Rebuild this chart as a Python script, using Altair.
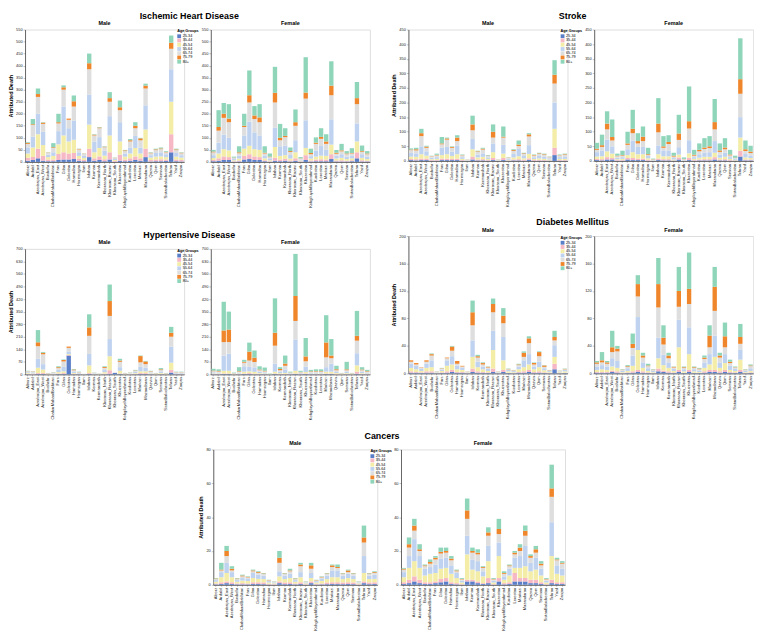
import altair as alt
import pandas as pd

PROVINCES = ["Alborz", "Ardabil", "Azerbaijan_East", "Azerbaijan_West", "Bushehr",
             "ChaharMahaalBakhtiari", "Fars", "Gilan", "Golestan", "Hamadan", "Hormozgan",
             "Ilam", "Isfahan", "Kerman", "Kermanshah", "Khorasan_North", "Khorasan_Razavi",
             "Khorasan_South", "Khuzestan", "KohgiluyehBoyerahmad", "Kurdistan", "Lorestan",
             "Markazi", "Mazandaran", "Qazvin", "Qom", "Semnan", "SistanBaluchestan",
             "Tehran", "Yazd", "Zanjan"]
AGE_GROUPS = ["25-34", "35-44", "45-54", "55-64", "65-74", "75-79", "80+"]
COLORS = ["#5a7fc8", "#f5b8c4", "#f3eda8", "#bfd3f0", "#dedede", "#f0862b", "#8fd5ba"]

# each row: one province, values per age group (25-34 ... 80+)
IHD_MALE = [[5,12,18,25,15,4,3],[8,12,40,45,48,4,21],[15,40,60,85,70,12,23],[5,20,45,55,33,5,2],
            [3,7,10,10,8,1,1],[3,7,15,15,18,3,17],[8,25,40,55,32,5,35],[10,30,70,120,70,10,8],
            [10,25,50,55,35,5,0],[12,25,55,80,58,22,24],[5,8,12,15,12,2,1],[3,5,8,9,8,1,1],
            [20,35,100,125,105,25,40],[5,10,25,45,25,3,2],[8,15,35,45,37,3,2],[3,8,15,20,15,2,2],
            [10,30,70,80,60,15,25],[1,3,4,4,4,1,1],[5,25,55,80,50,12,28],[3,7,12,13,10,3,2],
            [5,10,20,25,25,5,5],[8,15,35,50,32,10,15],[5,10,20,25,30,8,2],[20,35,80,100,70,12,8],
            [2,6,10,10,8,2,2],[3,7,12,15,12,3,3],[3,8,12,17,13,3,4],[4,6,10,12,8,2,3],
            [40,75,135,135,85,25,30],[3,7,12,15,12,3,3],[2,6,10,10,8,2,2]]
IHD_FEMALE = [[3,5,8,12,12,3,7],[5,10,20,45,50,15,70],[8,15,30,60,70,17,45],[8,12,28,52,65,15,60],
              [1,2,4,5,5,1,4],[2,4,8,12,10,4,25],[10,15,30,55,35,5,50],[12,20,35,100,80,30,103],
              [8,15,30,70,55,15,39],[8,12,30,60,55,20,55],[3,4,8,12,8,3,27],[1,2,4,8,5,2,13],
              [5,12,45,80,105,40,108],[3,7,15,40,25,10,58],[5,8,15,40,35,5,32],[2,4,8,15,12,4,15],
              [5,10,25,50,60,15,53],[1,2,3,4,4,1,5],[8,20,30,115,90,25,147],[2,4,8,10,8,5,18],
              [3,7,12,25,28,5,22],[3,8,15,40,30,8,36],[3,7,15,25,25,10,30],[12,20,40,105,100,40,101],
              [2,4,8,12,8,4,12],[2,5,10,15,12,4,27],[2,3,7,10,10,3,10],[3,4,8,12,8,2,20],
              [15,25,45,75,80,25,67],[2,5,10,15,10,3,23],[2,3,7,10,10,3,10]]
STROKE_MALE = [[3,4,8,12,10,2,4],[2,4,8,12,10,4,5],[3,5,15,27,35,10,15],[3,5,10,15,12,4,3],
               [1,2,3,5,5,1,1],[1,2,4,6,6,2,4],[3,5,12,25,12,3,22],[3,5,15,25,25,4,3],
               [3,4,10,15,13,3,2],[3,5,15,30,15,12,8],[1,2,4,6,6,1,2],[0.5,0.5,1,1,1,0.5,0.5],
               [5,10,25,35,30,20,30],[2,3,7,10,9,2,2],[2,4,8,12,13,3,3],[1,2,4,5,5,1,2],
               [3,7,20,30,20,20,25],[0.5,0.5,1,1,1,0.5,0.5],[3,7,15,30,25,3,35],[1,1,2,3,3,1,1],
               [2,3,7,12,10,3,3],[2,4,10,25,10,5,14],[1,3,5,8,7,2,2],[4,5,15,30,30,7,4],
               [1,2,4,6,6,1,2],[1,3,5,8,7,2,2],[1,2,4,7,7,2,2],[1,1,3,4,4,1,1],
               [20,25,65,90,65,30,50],[1,2,4,6,6,1,2],[1,2,4,7,7,2,2]]
STROKE_FEMALE = [[3,4,8,15,8,4,20],[2,4,10,20,12,6,36],[5,8,20,40,35,20,42],[5,5,15,25,20,12,60],
                 [1,2,3,5,5,2,7],[1,2,4,6,5,2,15],[5,5,10,20,15,5,40],[3,7,20,40,25,15,65],
                 [3,5,15,25,12,8,27],[3,5,15,25,20,15,35],[1,3,5,8,3,3,22],[0.5,0.5,1,2,1,1,2],
                 [3,5,15,30,45,30,87],[2,4,10,20,9,5,35],[2,4,10,20,22,7,23],[1,1,3,5,5,3,10],
                 [5,7,10,25,25,22,64],[0.5,0.5,1,2,2,1,5],[3,8,15,45,40,25,119],[1,2,4,6,5,3,17],
                 [2,3,6,12,10,5,22],[2,4,8,15,12,5,32],[2,4,8,16,14,6,35],[5,8,15,40,40,25,79],
                 [2,3,6,10,10,5,24],[2,4,8,14,12,6,32],[1,2,4,6,6,3,16],[1,1,2,3,3,1,7],
                 [15,20,45,70,80,50,140],[2,3,7,12,10,6,30],[2,3,5,9,8,5,20]]
HYP_MALE = [[1,2,4,5,5,1,2],[1,1,3,5,5,1,2],[2,5,30,50,70,22,68],[2,5,20,30,55,8,5],
            [0.5,0.5,1,2,2,1,1],[0.5,1,2,3,3,1,1.5],[2,3,8,12,10,5,5],[2,5,10,25,30,8,3],
            [105,3,5,15,20,7,0],[1,2,5,8,7,4,3],[1,1,2,4,4,1,2],[0.3,0.3,0.5,0.7,0.7,0.2,0.3],
            [2,5,43,64,101,47,73],[0.5,1,2,3,2,0.5,1],[0.3,0.5,1,1.2,1,0.5,0.5],[1,3,8,12,12,5,4],
            [3,20,78,96,129,83,92],[8,0.5,0.5,0.5,0.5,0,0],[2,3,15,20,30,7,10],[0.5,0.5,1,2,2,1,1],
            [0.5,1,2,2,2,1,1.5],[1,2,4,7,6,2,3],[2,5,10,25,25,35,3],[2,5,10,20,20,15,3],
            [1,1,3,5,6,2,2],[0.5,0.5,1,2,2,1,1],[1,2,5,8,8,4,7],[0.5,0.5,1,2,2,1,1],
            [10,15,40,90,55,22,33],[1,1,2,4,4,1,2],[1,1,2,4,4,1,2]]
HYP_FEMALE = [[1,1,3,6,7,3,10],[1,1,3,5,6,3,9],[2,3,15,85,75,65,160],[2,3,15,95,65,70,100],
              [0.5,0.5,1,2,2,1,3],[1,1,3,5,5,3,22],[2,3,10,30,20,5,11],[2,5,10,25,35,50,50],
              [1,3,10,25,30,24,40],[1,2,4,8,8,4,18],[1,1,3,6,6,3,18],[0.3,0.3,0.5,1,1,0.4,1.5],
              [2,3,10,45,100,72,192],[1,2,4,8,8,7,10],[1,2,5,20,20,12,45],[1,1,2,3,3,1,4],
              [2,3,15,175,103,139,235],[1,1,2,4,4,2,6],[2,3,8,30,30,27,103],[1,1,2,5,5,3,8],
              [1,1,3,5,5,3,10],[1,1,3,5,5,3,10],[2,3,10,25,55,83,152],[2,3,10,45,30,15,92],
              [1,2,4,8,8,5,20],[0.5,0.5,1,2,2,1,1],[1,2,4,8,8,5,42],[0.5,0.5,1,2,2,1,1],
              [3,12,35,68,70,27,139],[1,2,4,8,8,4,13],[1,1,3,5,5,3,7]]
DIAB_MALE = [[1,2,5,6,3,2,0],[1,1,4,5,2,2,0],[0.5,1,2,3,2,0.5,0],[1,2,5,6,3,2,0],
             [1,2,6,10,7,2,1],[0.3,0.3,0.8,0.8,0.5,0.2,0.1],[0.5,1,2,2,1.5,0.5,0.5],[1,2,8,8,3,1,0],
             [2,3,8,12,8,6,1],[1,1,4,5,3,4,0],[1,1,3,3,2,1,0],[0.3,0.3,0.8,0.8,0.5,0.2,0.1],
             [2,5,17,24,22,19,17],[1,2,6,8,6,2,2],[1,1,4,4,3,2,1],[0.5,1,2,3,2,1,0.5],
             [2,5,27,28,27,12,8],[0.3,0.3,0.8,0.8,0.5,0.2,0.1],[2,3,14,34,20,11,11],[0.5,0.5,2,2,1,0.5,0.5],
             [0.3,0.5,1,1.5,1,0.4,0.3],[1,1,4,4,2,1,1],[1,2,6,10,5,6,2],[2,3,8,15,16,7,3],
             [1,1,4,4,3,2,1],[1,2,6,8,8,6,1],[0.5,1,3,3,2,2,0.5],[0.3,0.5,1,1.5,1,0.4,0.3],
             [6,8,10,17,7,5,9],[0.3,0.3,1,1,0.8,0.3,0.3],[0.5,0.5,2,2,1,0.5,0.5]]
DIAB_FEMALE = [[1,1,3,5,4,2,2],[1,1,4,6,4,3,12],[1,1,3,5,4,2,2],[2,2,6,12,9,7,24],
               [1,2,5,10,14,4,4],[0.3,0.5,1,2,1,0.5,0.7],[0.5,1,2,4,2,1,1.5],[1,2,8,15,11,6,15],
               [2,3,29,48,30,18,13],[1,2,5,8,7,3,4],[0.5,1,2,4,3,1,2.5],[0.3,0.5,1,2,1,0.5,0.7],
               [3,4,15,30,44,34,38],[2,2,8,15,15,10,18],[1,2,5,8,6,4,4],[0.5,1,2,3,2,1,0.5],
               [2,3,33,40,19,23,35],[0.5,0.5,2,3,2,1,1],[2,3,23,39,34,22,53],[0.5,0.5,2,3,2,1,1],
               [0.5,0.5,1,2,2,1,1],[1,2,5,8,5,2,3],[2,3,8,15,10,17,15],[2,3,19,31,36,35,29],
               [1,2,5,8,7,3,4],[2,3,10,13,10,16,20],[1,1,3,6,4,2,3],[0.5,1,2,3,2,0.5,1],
               [2,3,15,15,8,10,19],[0.3,0.5,1,2,1,0.5,0.7],[0.5,1,2,4,3,1,1.5]]
CANCER_MALE = [[0.3,0.5,1,1,0.6,0.3,0.3],[0.5,1,3,3,1,0.5,4],[1,1,5,6,4,3,3],[0.5,1,3,3,1,1,1.5],
               [0.3,0.5,1,1,0.6,0.3,0.3],[0.3,0.7,1.5,1.5,1,0.5,0.5],[0.3,0.5,1.5,1.5,0.6,0.3,0.3],[0.5,1,2.5,3,1,0.5,0.5],
               [0.5,1,2,2.5,1,0.5,0.5],[0.4,1,2,2,1,0.3,0.3],[0.2,0.4,0.8,0.8,0.4,0.2,0.2],[0.1,0.3,0.5,0.5,0.3,0.1,0.2],
               [1,1,3,3,5,3,4],[0.4,1,2,2,1,0.3,0.3],[0.5,1,2.5,2.5,1.5,0.5,1],[0.3,0.5,1,1,0.6,0.3,0.3],
               [0.5,1,3,3,3.5,1,1],[0.1,0.3,0.5,0.5,0.3,0.1,0.2],[1,1,2,3,2.5,2,1.5],[0.2,0.4,0.8,0.8,0.4,0.2,0.2],
               [0.3,0.5,1.5,1.5,0.6,0.3,0.3],[0.4,1,2,2,1,0.3,0.3],[0.5,1,3,4,2,1,0.5],[0.5,1,3,4,1.5,0.5,1.5],
               [0.4,1,2,2,1,0.3,0.3],[0.5,1,2.5,2.5,1,1,0.5],[0.4,1,2,2,1,0.3,0.3],[0.1,0.3,0.5,0.5,0.3,0.1,0.2],
               [1,1,5,10,8,3,7],[0.4,1,2,2,1,0.3,0.3],[0.5,1,2,2.5,1,0.5,0.5]]
CANCER_FEMALE = [[0.5,1,3,3,1.5,0.5,0.5],[1,2,7,7,5,2,4],[2,3,9,13,5,3,4],[1,2,7,7,3,1,3],
                 [0.5,1,4,4,1.5,0.5,0.5],[0.5,1,5,4,2,1,1.5],[1,1,5,5,3,1,1],[1.5,2,6,6,3,1,2.5],
                 [2,2,6,6,3,1,2],[0.5,1,5,5,3,1,1.5],[0.3,0.7,3,3,1,0.5,0.5],[0.1,0.3,1,1,0.8,0.3,0.5],
                 [2,1,15,11,10,5,7],[2,1,6,6,4,1,2],[1,1,6,6,4,1,2],[0.5,0.5,4,3,2,0.5,0.5],
                 [1,3,10,9,6,2,3],[0.1,0.3,1,1,0.8,0.3,0.5],[2,2,13,8,5,3,6],[0.3,0.7,2,2,1.5,0.5,1],
                 [0.5,1,4,4,1.5,0.5,0.5],[2,5,3,6,2,1,1],[2,2,6,7,3,2,2],[2,2,7,12,6,3,3],
                 [1,2,5,5,3,1,1],[1,2,6,7,3,2,2],[0.5,1,4,4,2,1,1.5],[0.1,0.3,1,1,0.8,0.3,0.5],
                 [1,2,14,20,15,5,14],[0.5,1,5,5,3,0.5,1],[0.5,1,4,4,3,0.5,1]]

IHD_TICKS = [0, 50, 100, 150, 200, 250, 300, 350, 400, 450, 500, 550]
STROKE_TICKS = [0, 50, 100, 150, 200, 250, 300, 350, 400, 450]
HYP_TICKS = [0, 70, 140, 210, 280, 350, 420, 490, 560, 630, 700]
DIAB_TICKS = [0, 40, 80, 120, 160, 200]
CANCER_TICKS = [0, 20, 40, 60, 80]

FONT = "Liberation Sans"


def panel(rows, sex, ticks, w, h, is_male):
    recs = []
    for prov, vals in zip(PROVINCES, rows):
        for i, (age, v) in enumerate(zip(AGE_GROUPS, vals)):
            recs.append({"Province": prov, "Age": age, "k": i, "Deaths": v})
    df = pd.DataFrame(recs)
    if is_male:
        legend = alt.Legend(title="Age Groups", orient="right", offset=-7,
                            titleFontSize=3.8, titleFont=FONT, titleFontWeight="bold", titlePadding=1,
                            labelFontSize=3.8, labelFont=FONT, labelOffset=1.5, symbolType="square",
                            symbolSize=15, symbolStrokeWidth=0, rowPadding=0.3, padding=0)
        ytitle = "Attributed Death"
    else:
        legend = None
        ytitle = None
    xaxis = alt.Axis(title=None, labelAngle=-90, labelFontSize=4.1, labelFont=FONT, labelPadding=1,
                     tickSize=1.5, tickWidth=0.5, domainWidth=0.7, domainColor="#333",
                     labelColor="#222", labelOverlap=False)
    yaxis = alt.Axis(values=ticks, title=ytitle, titleFontSize=5.5, titleFont=FONT,
                     titleFontWeight="bold", titlePadding=2, labelFontSize=4, labelFont=FONT,
                     labelPadding=1, tickSize=2, tickWidth=0.5, domainWidth=0.7,
                     domainColor="#333", labelColor="#222", grid=False)
    return alt.Chart(df).mark_bar().encode(
        x=alt.X("Province:N", sort=PROVINCES, axis=xaxis,
                scale=alt.Scale(paddingInner=0.15, paddingOuter=0.1)),
        y=alt.Y("Deaths:Q", stack="zero", axis=yaxis,
                scale=alt.Scale(domain=[ticks[0], ticks[-1]], nice=False)),
        color=alt.Color("Age:N", scale=alt.Scale(domain=AGE_GROUPS, range=COLORS), legend=legend),
        order=alt.Order("k:Q", sort="ascending"),
    ).properties(width=w, height=h,
                 title=alt.TitleParams(sex, fontSize=5.5, font=FONT, fontWeight="bold",
                                       anchor="middle", offset=1, frame="group"))


def block(name, male_rows, female_rows, ticks, w, h):
    m = panel(male_rows, "Male", ticks, w, h, True)
    f = panel(female_rows, "Female", ticks, w, h, False)
    return alt.hconcat(m, f, spacing=0,
                       title=alt.TitleParams(name, fontSize=9, font=FONT, fontWeight="bold",
                                             anchor="middle", offset=0)
                       ).resolve_scale(color="independent").resolve_legend(color="independent")


W = 161
ihd = block("Ischemic Heart Disease", IHD_MALE, IHD_FEMALE, IHD_TICKS, W, 134)
stroke = block("Stroke", STROKE_MALE, STROKE_FEMALE, STROKE_TICKS, W, 133)
hyp = block("Hypertensive Disease", HYP_MALE, HYP_FEMALE, HYP_TICKS, W, 127)
diab = block("Diabetes Mellitus", DIAB_MALE, DIAB_FEMALE, DIAB_TICKS, W, 139)
cancer = block("Cancers", CANCER_MALE, CANCER_FEMALE, CANCER_TICKS, 166, 137)

# invisible spacer that lowers the hypertensive block so both row-2 blocks end on one baseline
spacer = alt.Chart(pd.DataFrame({"v": [0]})).mark_point(opacity=0, size=0, strokeWidth=0).encode(
    x=alt.X("v:Q", axis=None), y=alt.Y("v:Q", axis=None)).properties(
    width=10, height=1, view=alt.ViewBackground(stroke="transparent", fill="transparent"))
hyp_shifted = alt.vconcat(spacer, hyp, spacing=-7).resolve_scale(
    color="independent").resolve_legend(color="independent")

row1 = alt.hconcat(ihd, stroke, spacing=20).resolve_scale(color="independent").resolve_legend(color="independent")
row2 = alt.hconcat(hyp_shifted, diab, spacing=20).resolve_scale(color="independent").resolve_legend(color="independent")
top = alt.vconcat(row1, row2, spacing=10).resolve_scale(color="independent").resolve_legend(color="independent")

chart = alt.vconcat(top, cancer, spacing=11, center=True).resolve_scale(
    color="independent").resolve_legend(color="independent").properties(padding=0).configure_view(
    stroke="transparent").configure(font=FONT)

chart.save("out.html", embed_options={"renderer": "svg", "actions": False})
